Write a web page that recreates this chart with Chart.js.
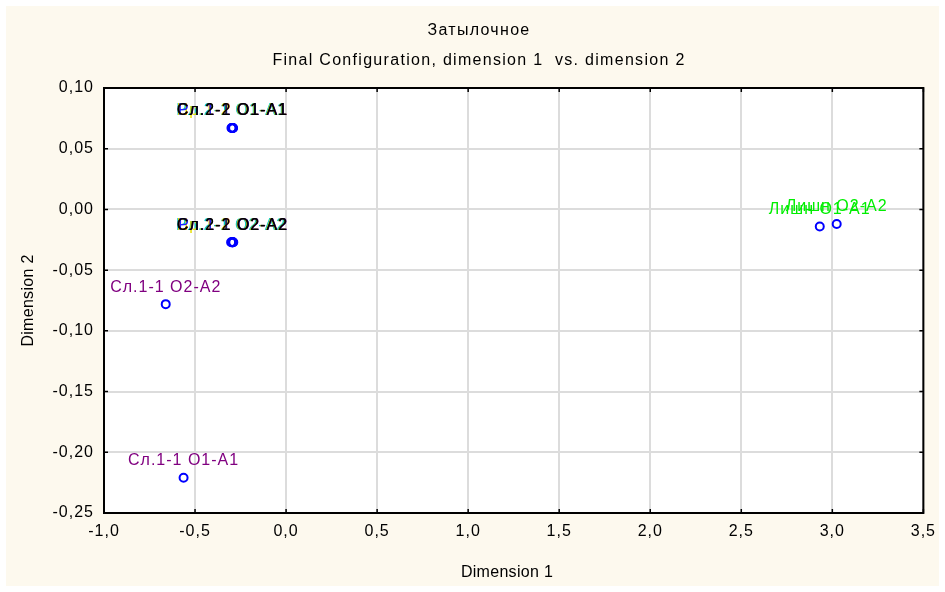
<!DOCTYPE html>
<html><head><meta charset="utf-8">
<script src="https://cdn.jsdelivr.net/npm/chart.js@4/dist/chart.umd.min.js"></script>
<style>html,body{margin:0;padding:0;background:#fff}#wrap{width:945px;height:592px;position:relative}</style>
</head><body><div id="wrap"><canvas id="c"></canvas></div>
<script>
// ---- data ----
const chartTitle = "Затылочное";
const chartSubtitle = "Final Configuration, dimension 1  vs. dimension 2";
const xTitle = "Dimension 1";
const yTitle = "Dimension 2";
const pointLabels = [
  "Рл.2-1 O1-A1", "Пр.1-2 O1-A1", "Сл.1-2 O1-A1", "Рл.1-1 O1-A1", "Сл.2-1 O1-A1", "Сл.2-2 O1-A1",
  "Рл.2-1 O2-A2", "Пр.1-2 O2-A2", "Сл.1-2 O2-A2", "Рл.1-1 O2-A2", "Сл.2-1 O2-A2", "Сл.2-2 O2-A2",
  "Сл.1-1 O2-A2", "Сл.1-1 O1-A1", "Лишн O1-A1", "Лишн O2-A2"
];
const dim1 = [-0.300, -0.297, -0.293, -0.291, -0.296, -0.294,
              -0.302, -0.297, -0.293, -0.290, -0.296, -0.294,
              -0.661, -0.563, 2.931, 3.024];
const dim2 = [0.067, 0.067, 0.067, 0.067, 0.067, 0.067,
              -0.027, -0.027, -0.027, -0.027, -0.027, -0.027,
              -0.078, -0.221, -0.014, -0.012];
const xTicks = [-1.0, -0.5, 0.0, 0.5, 1.0, 1.5, 2.0, 2.5, 3.0, 3.5];
const yTicks = [0.10, 0.05, 0.00, -0.05, -0.10, -0.15, -0.20, -0.25];

// ---- styles ----
const labelColors = ["#00c8c8", "#e8e000", "#ff4a00", "#2020ff", "#202020", "#000000",
                     "#00c8c8", "#e8e000", "#ff4a00", "#2020ff", "#202020", "#000000",
                     "#800080", "#800080", "#00ee00", "#00ee00"];
const FONT = '"Liberation Sans", Arial, sans-serif';
const CREAM = "#fdf9ee";
const fmt = (v, d) => v.toFixed(d).replace('.', ',');

const deco = {
  id: 'deco',
  beforeUpdate(chart) { chart.ctx.letterSpacing = '1px'; },
  beforeLayout(chart) { chart.ctx.letterSpacing = '1px'; },
  beforeDraw(chart) {
    const ctx = chart.ctx, a = chart.chartArea;
    ctx.save();
    ctx.fillStyle = '#fff'; ctx.fillRect(0, 0, chart.width, chart.height);
    ctx.fillStyle = CREAM; ctx.fillRect(6, 6, 933, 580);
    ctx.fillStyle = '#fff'; ctx.fillRect(a.left, a.top, a.right - a.left, a.bottom - a.top);
    ctx.restore();
    ctx.letterSpacing = '1px';
  },
  afterDatasetsDraw(chart) {
    const ctx = chart.ctx, a = chart.chartArea;
    const xs = chart.scales.x, ys = chart.scales.y;
    ctx.save();
    // frame
    ctx.strokeStyle = '#000'; ctx.lineWidth = 2;
    ctx.strokeRect(a.left, a.top, a.right - a.left, a.bottom - a.top);
    // inward tick marks
    ctx.lineWidth = 1.5;
    ctx.beginPath();
    xTicks.forEach(v => { const p = xs.getPixelForValue(v);
      ctx.moveTo(p, a.bottom); ctx.lineTo(p, a.bottom - 4);
      ctx.moveTo(p, a.top); ctx.lineTo(p, a.top + 4); });
    yTicks.forEach(v => { const p = ys.getPixelForValue(v);
      ctx.moveTo(a.left, p); ctx.lineTo(a.left + 4, p);
      ctx.moveTo(a.right, p); ctx.lineTo(a.right - 4, p); });
    ctx.stroke();
    // point labels
    ctx.font = '16px ' + FONT;
    ctx.letterSpacing = '1px';
    ctx.textAlign = 'center'; ctx.textBaseline = 'middle';
    pointLabels.forEach((t, i) => {
      ctx.fillStyle = labelColors[i];
      ctx.fillText(t, xs.getPixelForValue(dim1[i]), ys.getPixelForValue(dim2[i]) - 17);
    });
    // titles
    ctx.fillStyle = '#000';
    ctx.font = '16px ' + FONT; ctx.letterSpacing = '1.3px';
    ctx.fillText(chartTitle, 479, 31);
    ctx.fillText(chartSubtitle, 479, 61);
    ctx.font = '16px ' + FONT; ctx.letterSpacing = '0.3px';
    ctx.fillText(xTitle, 507, 573);
    ctx.translate(29, (a.top + a.bottom) / 2);
    ctx.rotate(-Math.PI / 2);
    ctx.fillText(yTitle, 0, 0);
    ctx.restore();
    ctx.letterSpacing = '1px';
  }
};

new Chart(document.getElementById('c'), {
  type: 'scatter',
  data: {
    datasets: [{
      data: dim1.map((x, i) => ({ x: x, y: dim2[i] })),
      pointStyle: 'circle', pointRadius: 4, pointHoverRadius: 4,
      borderColor: '#0000ff', backgroundColor: 'rgba(0,0,0,0)', borderWidth: 2
    }]
  },
  options: {
    responsive: true, maintainAspectRatio: false, animation: false,
    layout: { padding: { top: 88, right: 18, left: 0, bottom: 0 } },
    plugins: { legend: { display: false }, title: { display: false }, tooltip: { enabled: false } },
    scales: {
      x: {
        type: 'linear', min: -1, max: 3.5,
        afterBuildTicks: s => { s.ticks = xTicks.map(v => ({ value: v })); },
        afterFit: s => { s.height = 79; },
        ticks: { color: '#000', padding: 9, font: { family: FONT, size: 16 }, callback: v => fmt(v, 1), maxRotation: 0, autoSkip: false },
        grid: { color: '#dcdcdc', lineWidth: 2, drawTicks: false },
        border: { display: false }
      },
      y: {
        type: 'linear', min: -0.25, max: 0.1,
        afterBuildTicks: s => { s.ticks = yTicks.map(v => ({ value: v })); },
        afterFit: s => { s.width = 104; },
        ticks: { color: '#000', padding: 10, font: { family: FONT, size: 16 }, callback: v => fmt(v, 2), autoSkip: false },
        grid: { color: '#dcdcdc', lineWidth: 2, drawTicks: false },
        border: { display: false }
      }
    }
  },
  plugins: [deco]
});
</script></body></html>
